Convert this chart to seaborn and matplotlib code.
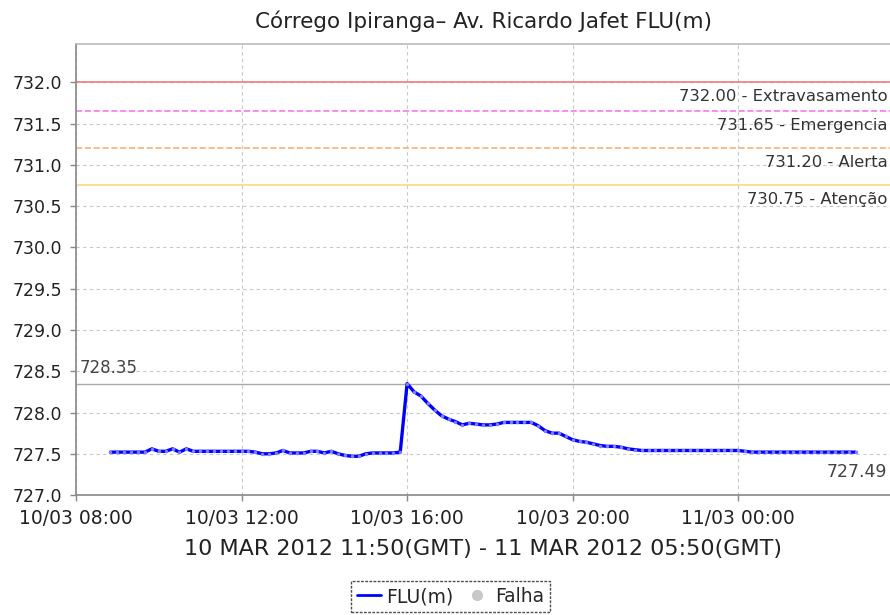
import numpy as np
import pandas as pd
import matplotlib
matplotlib.use("Agg")
import matplotlib.pyplot as plt
import matplotlib.dates as mdates
from matplotlib.lines import Line2D
import seaborn as sns

# Data: FLU(m) level every 10 minutes, local time 10/03 08:50 -> 11/03 02:50
START = "2012-03-10 08:50"
LEVEL = [
    727.52, 727.52, 727.52, 727.52, 727.52, 727.52, 727.56, 727.53, 727.53, 727.56,
    727.52, 727.56, 727.53, 727.53, 727.53, 727.53, 727.53, 727.53, 727.53, 727.53,
    727.53, 727.52, 727.50, 727.50, 727.51, 727.54, 727.51, 727.51, 727.51, 727.53,
    727.53, 727.51, 727.53, 727.50, 727.48, 727.47, 727.47, 727.50, 727.51, 727.51,
    727.51, 727.51, 727.52, 728.35, 728.25, 728.20, 728.11, 728.03, 727.96, 727.92,
    727.89, 727.85, 727.87, 727.86, 727.85, 727.85, 727.86, 727.88, 727.88, 727.88,
    727.88, 727.88, 727.84, 727.78, 727.75, 727.75, 727.71, 727.67, 727.65, 727.64,
    727.62, 727.60, 727.59, 727.59, 727.58, 727.56, 727.55, 727.54, 727.54, 727.54,
    727.54, 727.54, 727.54, 727.54, 727.54, 727.54, 727.54, 727.54, 727.54, 727.54,
    727.54, 727.54, 727.53, 727.52, 727.52, 727.52, 727.52, 727.52, 727.52, 727.52,
    727.52, 727.52, 727.52, 727.52, 727.52, 727.52, 727.52, 727.52, 727.52,
]

# Threshold levels
THRESH_VALUES = [732.00, 731.65, 731.20, 730.75]
THRESH_NAMES = ["Extravasamento", "Emergencia", "Alerta", "Atenção"]
THRESH_COLORS = ["#f47a7a", "#f47af4", "#f7b27a", "#f7dc7a"]
THRESH_STYLES = ["-", "--", "--", "-"]

MAX_LABEL = "728.35"
MIN_LABEL = "727.49"

TITLE = "Córrego Ipiranga– Av. Ricardo Jafet FLU(m)"
XLABEL = "10 MAR 2012 11:50(GMT) - 11 MAR 2012 05:50(GMT)"

df = pd.DataFrame({
    "time": pd.date_range(START, periods=len(LEVEL), freq="10min"),
    "level": LEVEL,
})

sns.set_style("white")
plt.rcParams["font.family"] = ["DejaVu Sans"]

fig = plt.figure(figsize=(8.9, 6.15), dpi=100)
ax = fig.add_axes([0.0854, 0.195, 0.9146, 0.733])

# grid
ax.grid(True, color="#c8c8c8", linestyle=(0, (3, 3)), linewidth=0.8)
ax.set_axisbelow(True)

# threshold lines and their labels
for val, name, col, ls in zip(THRESH_VALUES, THRESH_NAMES, THRESH_COLORS, THRESH_STYLES):
    ax.axhline(val, color=col, linestyle=ls, linewidth=1.2, zorder=2)
    ax.text(0.997, val - 0.085, f"{val:.2f} - {name}", transform=ax.get_yaxis_transform(),
            ha="right", va="top", fontsize=11.8, color="#333333")

# max line
max_val = max(LEVEL)
ax.axhline(max_val, color="#aaaaaa", linewidth=1.0, zorder=2)
ax.text(0.005, max_val + 0.08, MAX_LABEL, transform=ax.get_yaxis_transform(),
        ha="left", va="bottom", fontsize=12, color="#444444")
ax.text(0.997, min(LEVEL) - 0.08, MIN_LABEL, transform=ax.get_yaxis_transform(),
        ha="right", va="top", fontsize=12.5, color="#444444")

sns.lineplot(data=df, x="time", y="level", ax=ax, color="#0000ff", linewidth=2.4,
             marker="o", markersize=2.5, markerfacecolor="#7f7fff",
             markeredgecolor="none", zorder=3)

ax.set_ylim(727.0, 732.46)
ax.set_yticks(np.arange(727.0, 732.01, 0.5))
ax.yaxis.set_major_formatter(matplotlib.ticker.FormatStrFormatter("%.1f"))
ax.set_xlim(pd.Timestamp("2012-03-10 08:00"), pd.Timestamp("2012-03-11 03:40"))
ax.xaxis.set_major_locator(mdates.HourLocator(byhour=[0, 4, 8, 12, 16, 20]))
ax.xaxis.set_major_formatter(mdates.DateFormatter("%d/%m %H:%M"))

ax.tick_params(axis="both", direction="out", length=4, width=1, color="#888888",
               labelcolor="#222222", left=True, bottom=True)
ax.tick_params(axis="y", labelsize=12.5, pad=6)
ax.tick_params(axis="x", labelsize=13.5, pad=6)

for side in ["left", "bottom"]:
    ax.spines[side].set_color("#888888")
    ax.spines[side].set_linewidth(1.2)
ax.spines["top"].set_color("#bbbbbb")
ax.spines["top"].set_linewidth(1.2)
ax.spines["right"].set_visible(False)

ax.set_xlabel(XLABEL, fontsize=16, color="#222222", labelpad=8)
ax.set_ylabel("")
ax.set_title(TITLE, fontsize=15.5, color="#222222", pad=12)

handles = [
    Line2D([], [], color="#0000ff", linewidth=2),
    Line2D([], [], color="none", marker="o", markersize=7,
           markerfacecolor="#c8c8c8", markeredgecolor="#c8c8c8"),
]
leg = fig.legend(handles, ["FLU(m)", "Falha"], loc="center", bbox_to_anchor=(0.506, 0.03),
                 ncol=2, fontsize=13.5, frameon=True, fancybox=False,
                 handlelength=1.3, handletextpad=0.3, columnspacing=0.6,
                 borderpad=0.3, edgecolor="#222222")
leg.get_frame().set_linestyle((0, (2, 1)))
leg.get_frame().set_linewidth(1.0)

fig.savefig("out.png", dpi=100)
